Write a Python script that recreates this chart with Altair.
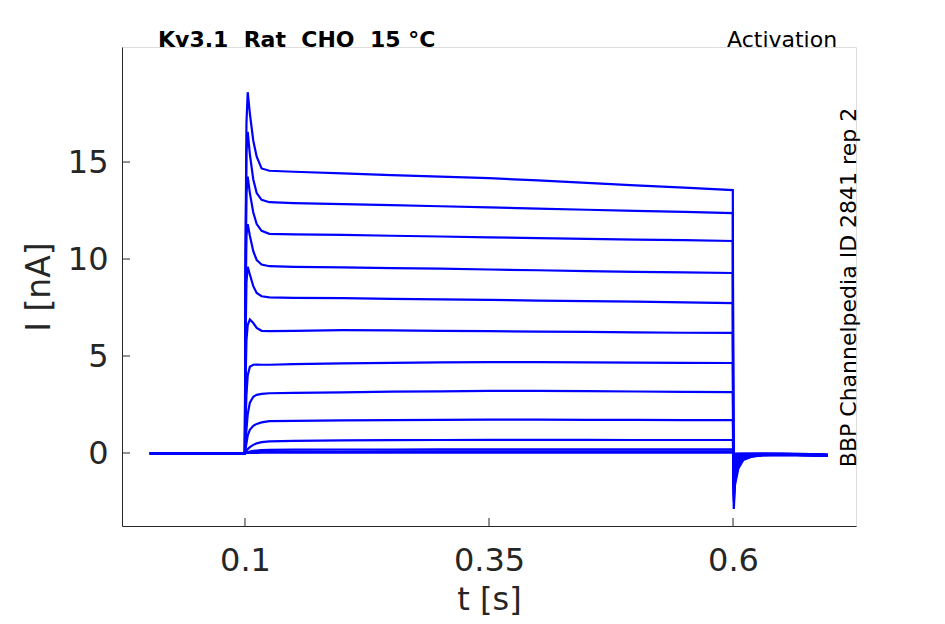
import altair as alt
import pandas as pd

# time points (s)
t = [0.0025, 0.0999, 0.1005, 0.1015, 0.1028, 0.105, 0.1085, 0.112, 0.117, 0.125,
     0.15, 0.2, 0.25, 0.3, 0.35, 0.4, 0.45, 0.5, 0.55, 0.5998,
     0.6003, 0.6008, 0.602, 0.6055, 0.6105, 0.619, 0.63, 0.65, 0.68, 0.697]

# current traces (nA), one per voltage step
tr1 = [-0.02, -0.02, 10.0, 17.0, 18.6, 17.5, 16.1, 15.27, 14.67, 14.55,
       14.5, 14.42, 14.33, 14.25, 14.17, 14.05, 13.93, 13.8, 13.68, 13.55,
       -1.5, -2.88, -1.65, -0.79, -0.36, -0.19, -0.12, -0.1, -0.12, -0.15]
tr2 = [-0.02, -0.02, 9.0, 15.5, 16.55, 15.4, 14.1, 13.4, 13.05, 12.93,
       12.88, 12.83, 12.78, 12.72, 12.66, 12.6, 12.54, 12.48, 12.43, 12.37,
       -1.3, -2.5, -1.45, -0.7, -0.33, -0.18, -0.11, -0.1, -0.12, -0.15]
tr3 = [-0.02, -0.02, 8.0, 13.4, 14.25, 13.4, 12.4, 11.8, 11.45, 11.3,
       11.27, 11.24, 11.2, 11.16, 11.12, 11.08, 11.04, 11.0, 10.97, 10.93,
       -1.15, -2.2, -1.28, -0.62, -0.3, -0.17, -0.11, -0.1, -0.12, -0.14]
tr4 = [-0.02, -0.02, 7.0, 11.2, 11.8, 11.2, 10.4, 9.95, 9.72, 9.63,
       9.6, 9.57, 9.53, 9.5, 9.46, 9.42, 9.38, 9.34, 9.31, 9.28,
       -1.0, -1.9, -1.1, -0.55, -0.27, -0.16, -0.1, -0.09, -0.11, -0.14]
tr5 = [-0.02, -0.02, 5.5, 8.8, 9.6, 9.2, 8.6, 8.25, 8.08, 8.02,
       8.0, 7.98, 7.95, 7.92, 7.89, 7.86, 7.83, 7.8, 7.76, 7.73,
       -0.85, -1.6, -0.95, -0.48, -0.24, -0.15, -0.1, -0.09, -0.11, -0.13]
tr6 = [-0.02, -0.02, 3.5, 5.8, 6.6, 6.88, 6.7, 6.45, 6.3, 6.28,
       6.3, 6.33, 6.32, 6.3, 6.28, 6.26, 6.24, 6.22, 6.2, 6.19,
       -0.7, -1.3, -0.8, -0.4, -0.21, -0.13, -0.09, -0.08, -0.1, -0.13]
tr7 = [-0.02, -0.02, 1.5, 3.0, 4.0, 4.45, 4.55, 4.56, 4.55, 4.55,
       4.58, 4.62, 4.65, 4.67, 4.68, 4.68, 4.67, 4.66, 4.65, 4.64,
       -0.55, -1.0, -0.62, -0.32, -0.18, -0.12, -0.08, -0.08, -0.1, -0.12]
tr8 = [-0.02, -0.02, 0.5, 1.2, 2.0, 2.6, 2.9, 3.0, 3.05, 3.08,
       3.1, 3.13, 3.16, 3.18, 3.2, 3.2, 3.19, 3.17, 3.15, 3.14,
       -0.4, -0.7, -0.45, -0.25, -0.14, -0.1, -0.07, -0.07, -0.09, -0.12]
tr9 = [-0.02, -0.02, 0.2, 0.5, 0.9, 1.2, 1.4, 1.5, 1.58, 1.64,
       1.66, 1.68, 1.7, 1.71, 1.72, 1.72, 1.71, 1.71, 1.7, 1.7,
       -0.25, -0.45, -0.3, -0.18, -0.11, -0.08, -0.06, -0.06, -0.08, -0.11]
tr10 = [-0.02, -0.02, 0.05, 0.12, 0.2, 0.3, 0.42, 0.5, 0.56, 0.6,
        0.63, 0.65, 0.66, 0.67, 0.68, 0.68, 0.68, 0.67, 0.67, 0.67,
        -0.15, -0.25, -0.18, -0.12, -0.08, -0.06, -0.05, -0.05, -0.07, -0.1]
tr11 = [-0.02, -0.02, 0.01, 0.03, 0.05, 0.08, 0.11, 0.13, 0.15, 0.16,
        0.17, 0.18, 0.18, 0.19, 0.19, 0.19, 0.19, 0.19, 0.19, 0.19,
        -0.06, -0.1, -0.08, -0.06, -0.05, -0.05, -0.04, -0.04, -0.06, -0.09]
tr12 = [-0.02, -0.02, 0.0, 0.01, 0.02, 0.03, 0.04, 0.05, 0.06, 0.06,
        0.07, 0.07, 0.08, 0.08, 0.08, 0.08, 0.08, 0.08, 0.08, 0.08,
        -0.03, -0.05, -0.05, -0.04, -0.04, -0.04, -0.04, -0.04, -0.06, -0.09]
tr13 = [-0.02, -0.02, -0.01, 0.0, 0.0, 0.01, 0.01, 0.01, 0.02, 0.02,
        0.02, 0.02, 0.02, 0.02, 0.02, 0.02, 0.02, 0.02, 0.02, 0.02,
        -0.02, -0.03, -0.03, -0.03, -0.03, -0.03, -0.03, -0.04, -0.06, -0.08]

traces = [tr1, tr2, tr3, tr4, tr5, tr6, tr7, tr8, tr9, tr10, tr11, tr12, tr13]

x_ticks = [0.1, 0.35, 0.6]
y_ticks = [0, 5, 10, 15]

NB = "\u00a0"
title_text = f"Kv3.1{NB}{NB}Rat{NB}{NB}CHO{NB}{NB}15{NB}°C"

rows = []
for k, tr in enumerate(traces):
    for i, (ti, v) in enumerate(zip(t, tr)):
        rows.append({"trace": k, "idx": i, "t": ti, "I": v})
df = pd.DataFrame(rows)

W, H = 734, 479
AX = "#262626"
FONT = "DejaVu Sans"

xscale = alt.Scale(domain=[-0.026, 0.726], nice=False, zero=False)
yscale = alt.Scale(domain=[-3.763, 20.93], nice=False, zero=False)

lines = alt.Chart(df).mark_line(color="#0000ff", strokeWidth=2.2, clip=True).encode(
    x=alt.X("t:Q", scale=xscale,
            axis=alt.Axis(values=x_ticks, format="~g", title="t [s]", grid=False,
                          ticks=False, domainColor=AX, domainWidth=1,
                          labelFont=FONT, labelFontSize=32, labelColor=AX,
                          labelPadding=19, labelFlush=False,
                          titleFont=FONT, titleFontSize=32, titleFontWeight="normal",
                          titleColor=AX, titleX=367, titleY=73, titleBaseline="middle")),
    y=alt.Y("I:Q", scale=yscale,
            axis=alt.Axis(values=y_ticks, format="~g", title="I [nA]", grid=False,
                          ticks=False, domainColor=AX, domainWidth=1,
                          labelFont=FONT, labelFontSize=32, labelColor=AX,
                          labelPadding=14, labelFlush=False,
                          titleFont=FONT, titleFontSize=33, titleFontWeight="normal",
                          titleColor=AX, titleX=-83, titleY=239.5,
                          titleBaseline="middle")),
    detail="trace:N",
    order="idx:Q",
)

xt = alt.Chart(pd.DataFrame({"v": x_ticks})).mark_rule(color=AX, strokeWidth=1).encode(
    x=alt.X("v:Q", scale=xscale), y=alt.value(H), y2=alt.value(H - 8))
yt = alt.Chart(pd.DataFrame({"v": y_ticks})).mark_rule(color=AX, strokeWidth=1).encode(
    y=alt.Y("v:Q", scale=yscale), x=alt.value(0), x2=alt.value(8))

title = alt.Chart(pd.DataFrame({"s": [title_text]})).mark_text(
    font=FONT, fontSize=22, fontWeight="bold", color="black",
    align="left", baseline="alphabetic").encode(
    text="s:N", x=alt.value(36), y=alt.value(0))
act = alt.Chart(pd.DataFrame({"s": ["Activation"]})).mark_text(
    font=FONT, fontSize=22, color="black",
    align="left", baseline="alphabetic").encode(
    text="s:N", x=alt.value(605), y=alt.value(0))
side = alt.Chart(pd.DataFrame({"s": ["BBP Channelpedia ID 2841 rep 2"]})).mark_text(
    font=FONT, fontSize=22, color="black", angle=270,
    align="center", baseline="middle").encode(
    text="s:N", x=alt.value(727), y=alt.value(240.5))

chart = alt.layer(lines, xt, yt, title, act, side).properties(
    width=W, height=H,
    autosize=alt.AutoSizeParams(type="none"),
    padding={"left": 114, "top": 39, "right": 80, "bottom": 90},
).configure_view(stroke=None).configure(background="white")

chart.save("out.html", embed_options={"renderer": "svg", "actions": False})
